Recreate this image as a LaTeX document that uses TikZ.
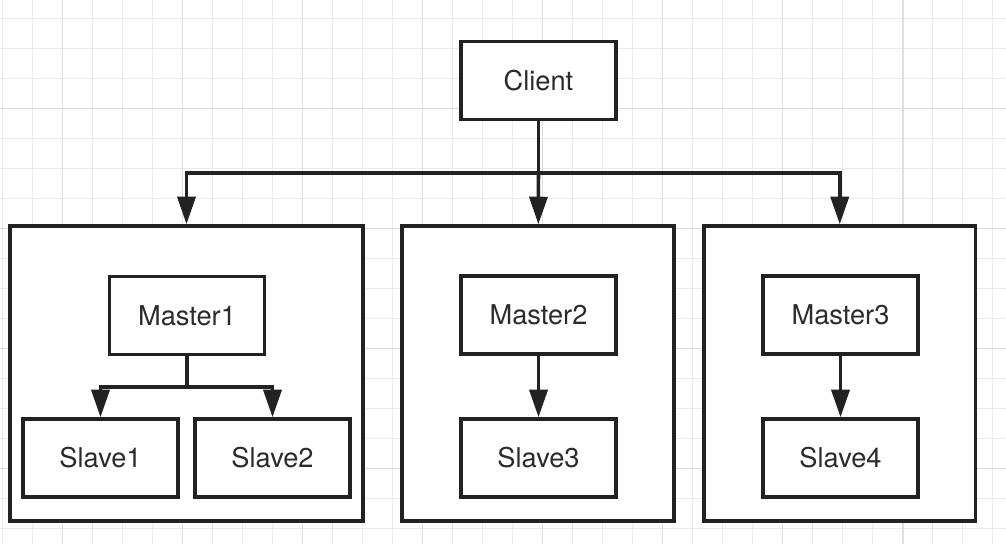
\documentclass[tikz,border=0pt]{standalone}
\usepackage{fontspec}
\setmainfont{TeX Gyre Heros}
\usepackage{tikz}
\usetikzlibrary{arrows.meta, positioning}

\definecolor{inkdark}{HTML}{222222}
\definecolor{textdark}{HTML}{2B2B2B}
\definecolor{gridminor}{HTML}{EBEBEB}
\definecolor{gridmajor}{HTML}{DEDEDE}

\begin{document}
\begin{tikzpicture}[
  box/.style={draw=inkdark, line width=2pt, fill=white, inner sep=0pt, minimum width=3.1cm, minimum height=1.56cm, align=center, text=textdark, font=\fontsize{15.5}{18}\selectfont},
  group/.style={draw=inkdark, line width=2pt, fill=white, inner sep=0pt, minimum height=5.9cm},
  link/.style={draw=inkdark, line width=2pt},
  arr/.style={link, -{Triangle[length=0.55cm, width=0.36cm]}},
  minor/.style={draw=gridminor, line width=0.8pt},
  major/.style={draw=gridmajor, line width=0.9pt}
]

% Background grid
\fill[white] (0,0) rectangle (20.12,10.88);
\useasboundingbox (0,0) rectangle (20.12,10.88);
\foreach \x in {0,...,33} \draw[minor] ({0.054+0.6*\x},0) -- ++(0,10.88);
\foreach \y in {0,...,17} \draw[minor] (0,{10.514-0.6*\y}) -- ++(20.12,0);
\foreach \x in {0,...,8} \draw[major] ({1.254+2.4*\x},0) -- ++(0,10.88);
\foreach \y in {0,...,3} \draw[major] (0,{8.714-2.4*\y}) -- ++(20.12,0);

% Groups
\node[group, minimum width=7.06cm] (g1) at (3.73,3.41) {};
\node[group, minimum width=5.44cm] (g2) at (10.76,3.41) {};
\node[group, minimum width=5.43cm] (g3) at (16.795,3.41) {};

% Client
\node[box] (client) at (10.77,9.27) {Client};
\coordinate (bus) at (10.77,7.42);

% Masters and slaves
\node[box] (master1) at (3.74,4.57)  {Master1};
\node[box] (slave1)  at (2.01,1.72)  {Slave1};
\node[box] (slave2)  at (5.45,1.72)  {Slave2};
\node[box] (master2) at (10.77,4.58) {Master2};
\node[box] (slave3)  at (10.77,1.72) {Slave3};
\node[box] (master3) at (16.81,4.58) {Master3};
\node[box] (slave4)  at (16.81,1.72) {Slave4};
\coordinate (split1) at (3.74,3.14);

% Client to groups
\draw[link] (client) -- (bus);
\draw[arr] (bus) -| (g1);
\draw[arr] (bus) -- (g2);
\draw[arr] (bus) -| (g3);

% Inside groups
\draw[link] (master1) -- (split1);
\draw[arr] (split1) -| (slave1);
\draw[arr] (split1) -| (slave2);
\draw[arr] (master2) -- (slave3);
\draw[arr] (master3) -- (slave4);

\end{tikzpicture}
\end{document}
